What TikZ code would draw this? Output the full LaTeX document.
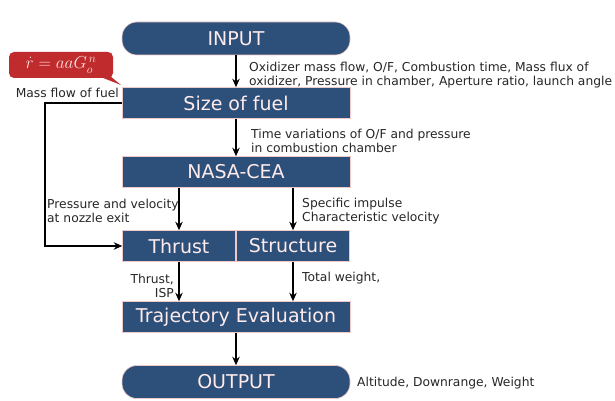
\documentclass[tikz,border=0pt]{standalone}
\usepackage{fontspec}
\setmainfont{DejaVu Sans}
\usetikzlibrary{arrows.meta}
\definecolor{boxblue}{RGB}{44,80,122}
\definecolor{calloutred}{RGB}{192,44,46}
\definecolor{boxedge}{RGB}{240,200,200}
\begin{document}
\begin{tikzpicture}[x=1pt,y=-1pt,
 blk/.style={fill=boxblue, draw=boxedge, line width=0.6pt, text=white!92!red, font=\fontsize{19}{21}\selectfont, inner sep=0pt, minimum height=31pt, minimum width=228pt},
 pill/.style={blk, rounded corners=15pt, minimum height=33pt},
 lbl/.style={font=\fontsize{12.3}{14.5}\selectfont, align=left, inner sep=0pt, anchor=west, text=black!85},
 arr/.style={-{Stealth[length=8.5pt,width=7.5pt]}, line width=1.3pt},
]
\useasboundingbox (0,0) rectangle (615,401);
\node[pill] (input) at (236,38.5) {INPUT};
\node[blk] (size) at (236,103) {Size of fuel};
\node[blk] (cea) at (236,172) {NASA-CEA};
\node[blk, minimum width=113pt] (thrust) at (179,246) {Thrust};
\node[blk, minimum width=113pt] (struct) at (293,246) {Structure};
\node[blk] (traj) at (236,317) {Trajectory Evaluation};
\node[pill] (output) at (236,382) {OUTPUT};

\coordinate (lx) at (45,0);
\draw[arr] (input) -- (size);
\draw[arr] (size) -- (cea);
\draw[arr] (thrust |- cea.south) -- (thrust.north);
\draw[arr] (struct |- cea.south) -- (struct.north);
\draw[arr] (thrust.south) -- (thrust |- traj.north);
\draw[arr] (struct.south) -- (struct |- traj.north);
\draw[arr] (traj) -- (output);
\draw[arr] (size.west) -- (size.west -| lx) |- (thrust.west);

\node[lbl] (l1) at (249,75) {Oxidizer mass flow, O/F, Combustion time, Mass flux of\\oxidizer, Pressure in chamber, Aperture ratio, launch angle};
\node[lbl] (l2) at (251,141) {Time variations of O/F and pressure\\in combustion chamber};
\node[lbl] (l3) at (47,211) {Pressure and velocity\\at nozzle exit};
\node[lbl] (l4) at (302,211) {Specific impulse\\Characteristic velocity};
\node[lbl, anchor=east, align=right] (l5) at (174,286) {Thrust,\\ISP};
\node[lbl] (l6) at (302,278) {Total weight,};
\node[lbl] (l7) at (357,383) {Altitude, Downrange, Weight};
\node[lbl, anchor=east] (l8) at (119,93) {Mass flow of fuel};

\fill[calloutred] (98,76) -- (110,76) -- (121,85) -- cycle;
\node[fill=calloutred, rounded corners=5pt, minimum width=104pt, minimum height=26pt, inner sep=0pt, text=red!12!white, font=\fontsize{18}{20}\selectfont] (call) at (61,65) {$\dot{r} = aaG_o^{\,n}$};
\end{tikzpicture}
\end{document}
